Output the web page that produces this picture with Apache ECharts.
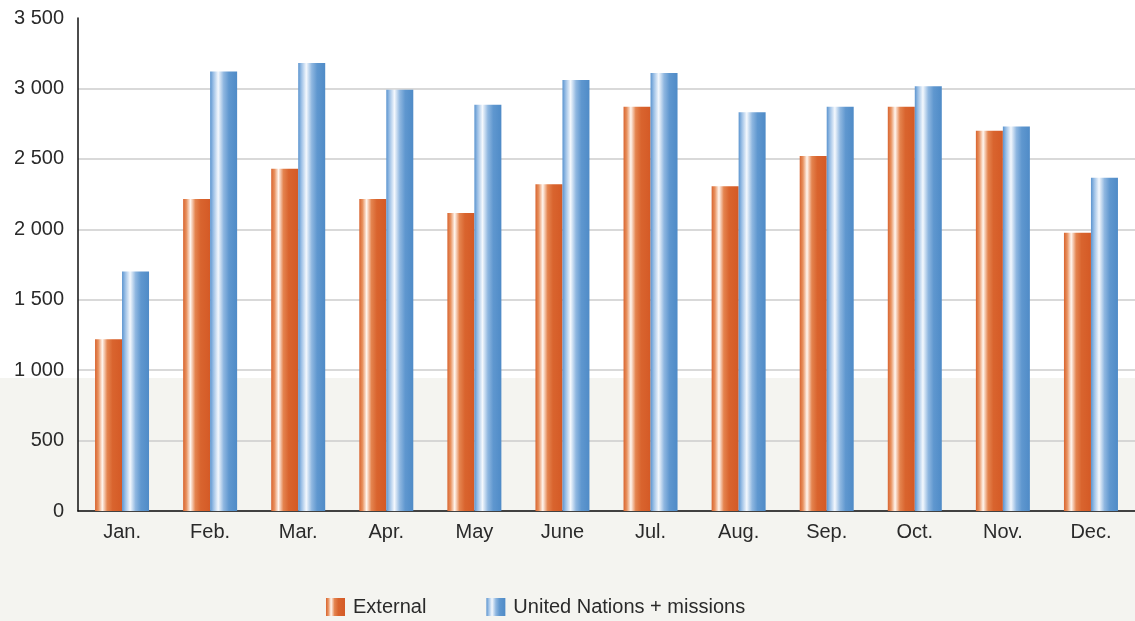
<!DOCTYPE html>
<html>
<head>
<meta charset="utf-8">
<script src="https://cdn.jsdelivr.net/npm/echarts@6/dist/echarts.min.js"></script>
<style>html,body{margin:0;padding:0;background:#fff}#c{width:1135px;height:621px}</style>
</head>
<body>
<div id="c"></div>
<script>
var categories = ['Jan.', 'Feb.', 'Mar.', 'Apr.', 'May', 'June', 'Jul.', 'Aug.', 'Sep.', 'Oct.', 'Nov.', 'Dec.'];
var externalValues = [1220, 2215, 2430, 2215, 2115, 2320, 2870, 2305, 2520, 2870, 2700, 1975];
var unValues = [1700, 3120, 3180, 2990, 2885, 3060, 3110, 2830, 2870, 3015, 2730, 2365];
var seriesNames = ['External', 'United Nations + missions'];

function grad(stops) {
  return new echarts.graphic.LinearGradient(0, 0, 1, 0, stops.map(function (s) { return { offset: s[0], color: s[1] }; }));
}
var orangeGrad = grad([[0, '#d8642f'], [0.12, '#e8915f'], [0.27, '#fff6ef'], [0.45, '#e4844f'], [0.65, '#d9642e'], [1, '#d45a26']]);
var blueGrad = grad([[0, '#5b94cf'], [0.12, '#9cc0e6'], [0.3, '#f4f8fd'], [0.5, '#8fb7e0'], [0.7, '#5f97cf'], [1, '#4f8bc7']]);

var fmt = function (v) { return String(v).replace(/\B(?=(\d{3})+(?!\d))/g, ' '); };
var font = 'Liberation Sans, Arial, sans-serif';

var chart = echarts.init(document.getElementById('c'), null, { renderer: 'canvas' });
chart.setOption({
  animation: false,
  backgroundColor: '#ffffff',
  graphic: [{
    type: 'rect', z: -10, silent: true,
    shape: { x: 0, y: 378, width: 1135, height: 243 },
    style: { fill: '#f4f4f0' }
  }],
  grid: { left: 78, right: 0, top: 18, bottom: 110 },
  legend: {
    top: 592, left: 321,
    icon: 'rect',
    itemWidth: 19, itemHeight: 18, itemGap: 60,
    textStyle: { fontFamily: font, fontSize: 20, color: '#2a2a2a', padding: [0, 0, 0, 3] },
    data: seriesNames
  },
  xAxis: {
    type: 'category', data: categories,
    axisLine: { lineStyle: { color: '#111', width: 1.5 } },
    axisTick: { show: false },
    axisLabel: { fontFamily: font, fontSize: 20, color: '#2a2a2a', margin: 11 }
  },
  yAxis: {
    type: 'value', min: 0, max: 3500, interval: 500,
    axisLine: { show: true, lineStyle: { color: '#111', width: 1.5 } },
    axisTick: { show: false },
    axisLabel: { fontFamily: font, fontSize: 20, color: '#2a2a2a', margin: 14, formatter: fmt },
    splitLine: { lineStyle: { color: ['#cccccc', '#cccccc', '#cccccc', '#cccccc', '#cccccc', '#cccccc', '#cccccc', 'rgba(0,0,0,0)'], width: 1.5 } }
  },
  series: [
    { name: seriesNames[0], type: 'bar', data: externalValues, barWidth: 27, barGap: '0%', itemStyle: { color: orangeGrad } },
    { name: seriesNames[1], type: 'bar', data: unValues, barWidth: 27, barGap: '0%', itemStyle: { color: blueGrad } }
  ]
});
</script>
</body>
</html>
